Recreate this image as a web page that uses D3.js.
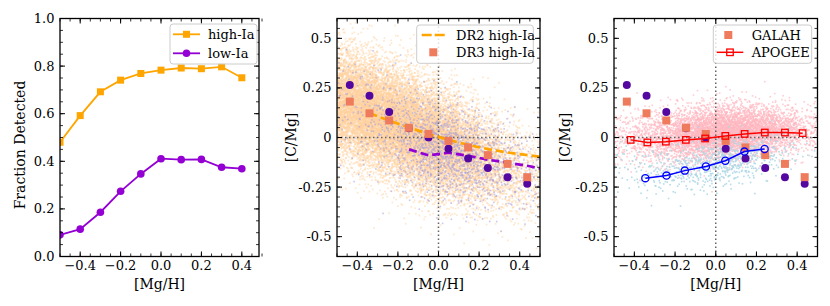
<!DOCTYPE html>
<html>
<head>
<meta charset="utf-8">
<script src="https://cdn.jsdelivr.net/npm/d3@7"></script>
<style>
  body { margin: 0; background: #fff; }
  svg { font-family: "DejaVu Serif", serif; }
</style>
</head>
<body>
<div id="chart"></div>
<script>

// 1. Data

// left panel: fraction detected per [Mg/H] bin
const fracX = [-0.5, -0.4, -0.3, -0.2, -0.1, 0.0, 0.1, 0.2, 0.3, 0.4];
const fracHighIa = [0.48, 0.592, 0.692, 0.741, 0.769, 0.783, 0.792, 0.789, 0.797, 0.751];
const fracLowIa = [0.091, 0.115, 0.186, 0.274, 0.347, 0.411, 0.407, 0.408, 0.375, 0.369];

// GALAH DR3 binned medians (middle + right panels)
const binX = [-0.437, -0.340, -0.243, -0.146, -0.049, 0.049, 0.146, 0.243, 0.340, 0.437];
const dr3LowIa = [0.265, 0.21, 0.129, 0.047, 0.0, -0.057, -0.106, -0.154, -0.2, -0.233];
const dr3HighIa = [0.181, 0.122, 0.086, 0.049, 0.018, -0.017, -0.05, -0.089, -0.133, -0.2];

// DR2 trends (dashed)
const dr2HighX = [-0.34, -0.25, -0.15, -0.05, 0.05, 0.15, 0.25, 0.35, 0.45, 0.5];
const dr2HighY = [0.122, 0.088, 0.052, 0.018, -0.012, -0.038, -0.06, -0.077, -0.09, -0.097];
const dr2LowX = [-0.145, -0.05, 0.05, 0.15, 0.25, 0.35, 0.45, 0.5];
const dr2LowY = [-0.06, -0.09, -0.077, -0.093, -0.113, -0.128, -0.145, -0.156];

// APOGEE trends (right panel)
const apogeeHighX = [-0.418, -0.336, -0.245, -0.147, -0.052, 0.047, 0.142, 0.241, 0.34, 0.427];
const apogeeHighY = [-0.012, -0.025, -0.021, -0.012, -0.005, 0.008, 0.018, 0.025, 0.025, 0.022];
const apogeeLowX = [-0.346, -0.242, -0.152, -0.048, 0.047, 0.141, 0.24];
const apogeeLowY = [-0.205, -0.192, -0.167, -0.146, -0.117, -0.071, -0.058];

// background star clouds, described per 0.1-wide column: centre, spread, star count
const cloudX = [-0.45, -0.35, -0.25, -0.15, -0.05, 0.05, 0.15, 0.25, 0.35, 0.45];
const galahHighMid = [0.17, 0.13, 0.09, 0.05, 0.0, -0.04, -0.08, -0.12, -0.16, -0.2];
const galahHighSpread = [0.14, 0.14, 0.14, 0.14, 0.14, 0.135, 0.13, 0.125, 0.125, 0.125];
const galahHighCount = [2000, 2300, 2300, 2300, 2100, 1700, 1200, 750, 450, 250];
const galahLowMid = [0.15, 0.1, 0.05, 0.0, -0.04, -0.07, -0.1, -0.13, -0.15, -0.18];
const galahLowSpread = [0.15, 0.15, 0.14, 0.13, 0.12, 0.12, 0.12, 0.12, 0.12, 0.12];
const galahLowCount = [40, 60, 110, 200, 300, 320, 260, 180, 100, 55];
const apogeeHighMid = [0.0, 0.0, 0.0, 0.01, 0.02, 0.03, 0.035, 0.04, 0.04, 0.035];
const apogeeHighSpread = [0.07, 0.07, 0.07, 0.07, 0.07, 0.068, 0.065, 0.06, 0.06, 0.06];
const apogeeHighCount = [120, 230, 380, 650, 900, 1000, 900, 650, 380, 150];
const apogeeLowMid = [-0.12, -0.17, -0.17, -0.16, -0.14, -0.12, -0.1, -0.08, -0.07, -0.06];
const apogeeLowSpread = [0.08, 0.07, 0.06, 0.06, 0.06, 0.06, 0.06, 0.06, 0.06, 0.06];
const apogeeLowCount = [25, 40, 60, 90, 130, 160, 130, 70, 25, 8];

const cTickVals = [-0.5, -0.25, 0, 0.25, 0.5];
const cTickLabels = ["-0.5", "-0.25", "0", "0.25", "0.5"];

// 2. Colours
const orange = "#ffa500";
const violet = "#9400d3";
const indigo = "#55089f";
const salmon = "#ef7b5d";

// 3. Canvas
const svg = d3.select("#chart").append("svg")
    .attr("width", 830)
    .attr("height", 306);

const plotTop = 18.5, plotBottom = 256.5;

function makePanel(id, x0, x1, xDomain, yDomain) {
    const x = d3.scaleLinear().domain(xDomain).range([x0, x1]);
    const y = d3.scaleLinear().domain(yDomain).range([plotBottom, plotTop]);
    svg.append("clipPath").attr("id", id)
        .append("rect")
            .attr("x", x0).attr("y", plotTop)
            .attr("width", x1 - x0).attr("height", plotBottom - plotTop);
    const plot = svg.append("g").attr("clip-path", `url(#${id})`);
    return {x, y, plot, x0, x1};
}

function drawFrame(p, xMajor, xMinor, yMinor, xFmt, yVals, yLabs, yLabel, yLabelX, yLabelY) {
    const g = svg.append("g");
    const tick = (x1, y1, x2, y2, w) => g.append("line")
        .attr("x1", x1).attr("y1", y1).attr("x2", x2).attr("y2", y2)
        .attr("stroke", "#000").attr("stroke-width", w);

    xMinor.forEach(v => {
        const px = p.x(v);
        tick(px, plotBottom, px, plotBottom - 3, 0.8);
        tick(px, plotTop, px, plotTop + 3, 0.8);
    });
    xMajor.forEach(v => {
        const px = p.x(v);
        tick(px, plotBottom, px, plotBottom - 5, 1);
        tick(px, plotTop, px, plotTop + 5, 1);
        g.append("text")
            .attr("x", px).attr("y", 269.5)
            .attr("text-anchor", "middle")
            .attr("font-size", 13)
            .text(xFmt(v));
    });
    yMinor.forEach(v => {
        const py = p.y(v);
        tick(p.x0, py, p.x0 + 3, py, 0.8);
        tick(p.x1, py, p.x1 - 3, py, 0.8);
    });
    yVals.forEach((v, i) => {
        const py = p.y(v);
        tick(p.x0, py, p.x0 + 5, py, 1);
        tick(p.x1, py, p.x1 - 5, py, 1);
        g.append("text")
            .attr("x", p.x0 - 5.5).attr("y", py)
            .attr("dy", "0.35em")
            .attr("text-anchor", "end")
            .attr("font-size", 13)
            .text(yLabs[i]);
    });

    g.append("rect")
        .attr("x", p.x0).attr("y", plotTop)
        .attr("width", p.x1 - p.x0).attr("height", plotBottom - plotTop)
        .attr("fill", "none")
        .attr("stroke", "#000")
        .attr("stroke-width", 1.3);

    g.append("text")
        .attr("x", (p.x0 + p.x1) / 2).attr("y", 289)
        .attr("text-anchor", "middle")
        .attr("font-size", 14)
        .text("[Mg/H]");

    g.append("text")
        .attr("transform", `translate(${yLabelX},${yLabelY}) rotate(-90)`)
        .attr("dy", "0.35em")
        .attr("text-anchor", "middle")
        .attr("font-size", 14)
        .text(yLabel);
}

// deterministic fill pattern for the star clouds (Halton sequence)
function halton(i, b) {
    let f = 1, r = 0;
    while (i > 0) { f /= b; r += f * (i % b); i = Math.floor(i / b); }
    return r;
}

function cloudPoints(mid, spread, count) {
    const pts = [];
    let k = 1;
    cloudX.forEach((cx, c) => {
        for (let j = 0; j < count[c]; j++, k++) {
            const u = halton(k, 2), v1 = halton(k, 3) || 0.5, v2 = halton(k, 5);
            const g = Math.sqrt(-2 * Math.log(v1)) * Math.cos(2 * Math.PI * v2);
            pts.push([cx + (u - 0.5) * 0.1, mid[c] + spread[c] * g]);
        }
    });
    return pts;
}

function drawCloud(p, pts, color, opacity, size) {
    p.plot.append("g")
        .selectAll("rect")
        .data(pts)
        .join("rect")
            .attr("x", d => p.x(d[0]) - size / 2)
            .attr("y", d => p.y(d[1]) - size / 2)
            .attr("width", size)
            .attr("height", size)
            .attr("fill", color)
            .attr("opacity", opacity);
}

function drawZeroLines(p) {
    p.plot.append("line")
        .attr("x1", p.x(0)).attr("x2", p.x(0))
        .attr("y1", plotTop).attr("y2", plotBottom)
        .attr("stroke", "#666").attr("stroke-width", 1.5)
        .attr("stroke-dasharray", "1.5,2.5");
    p.plot.append("line")
        .attr("x1", p.x0).attr("x2", p.x1)
        .attr("y1", p.y(0)).attr("y2", p.y(0))
        .attr("stroke", "#666").attr("stroke-width", 1.5)
        .attr("stroke-dasharray", "1.5,2.5");
}

function drawLine(p, xs, ys, color, width, dash) {
    const line = d3.line().x(d => p.x(d[0])).y(d => p.y(d[1]));
    p.plot.append("path")
        .attr("d", line(d3.zip(xs, ys)))
        .attr("fill", "none")
        .attr("stroke", color)
        .attr("stroke-width", width)
        .attr("stroke-dasharray", dash || null);
}

function drawSquares(p, xs, ys, size, fill, stroke, sw) {
    p.plot.append("g").selectAll("rect")
        .data(d3.zip(xs, ys))
        .join("rect")
            .attr("x", d => p.x(d[0]) - size / 2)
            .attr("y", d => p.y(d[1]) - size / 2)
            .attr("width", size).attr("height", size)
            .attr("fill", fill)
            .attr("stroke", stroke || "none")
            .attr("stroke-width", sw || 0);
}

function drawCircles(p, xs, ys, r, fill, stroke, sw) {
    p.plot.append("g").selectAll("circle")
        .data(d3.zip(xs, ys))
        .join("circle")
            .attr("cx", d => p.x(d[0]))
            .attr("cy", d => p.y(d[1]))
            .attr("r", r)
            .attr("fill", fill)
            .attr("stroke", stroke || "none")
            .attr("stroke-width", sw || 0);
}

function legendBox(x, y, w, h) {
    svg.append("rect")
        .attr("x", x).attr("y", y)
        .attr("width", w).attr("height", h)
        .attr("rx", 3)
        .attr("fill", "#fff").attr("fill-opacity", 0.8)
        .attr("stroke", "#ccc").attr("stroke-width", 1);
}

function legendText(x, y, txt) {
    svg.append("text")
        .attr("x", x).attr("y", y)
        .attr("dy", "0.35em")
        .attr("font-size", 13)
        .text(txt);
}

const minorX = d3.range(-0.5, 0.5001, 0.05);
const majorX = [-0.4, -0.2, 0, 0.2, 0.4];
const fmtX = v => Math.abs(v) < 1e-9 ? "0.0" : d3.format(".1f")(v);

// 4. Left panel
const left = makePanel("clipL", 60, 259, [-0.5, 0.485], [0, 1]);
drawLine(left, fracX, fracHighIa, orange, 1.8);
drawSquares(left, fracX, fracHighIa, 7, orange);
drawLine(left, fracX, fracLowIa, violet, 1.8);
drawCircles(left, fracX, fracLowIa, 3.8, violet);
const yMajL = [0, 0.2, 0.4, 0.6, 0.8, 1.0];
drawFrame(left, majorX, minorX, d3.range(0, 1.0001, 0.05),
    fmtX, yMajL, yMajL.map(d => d3.format(".1f")(d)), "Fraction Detected", 20, 145);

legendBox(170, 24, 87, 40);
svg.append("line").attr("x1", 173).attr("x2", 200).attr("y1", 34.3).attr("y2", 34.3)
    .attr("stroke", orange).attr("stroke-width", 1.8);
svg.append("rect").attr("x", 186.5 - 3.5).attr("y", 34.3 - 3.5)
    .attr("width", 7).attr("height", 7).attr("fill", orange);
legendText(208, 34.3, "high-Ia");
svg.append("line").attr("x1", 173).attr("x2", 200).attr("y1", 53.3).attr("y2", 53.3)
    .attr("stroke", violet).attr("stroke-width", 1.8);
svg.append("circle").attr("cx", 186.5).attr("cy", 53.3).attr("r", 3.8).attr("fill", violet);
legendText(208, 53.3, "low-Ia");

// 5. Middle panel
const mid = makePanel("clipM", 337, 540, [-0.5, 0.5], [-0.6, 0.6]);
drawCloud(mid, cloudPoints(galahHighMid, galahHighSpread, galahHighCount), "#ffd29e", 0.5, 1.7);
drawCloud(mid, cloudPoints(galahLowMid, galahLowSpread, galahLowCount), "#a8a2dc", 0.6, 1.6);
drawZeroLines(mid);
drawLine(mid, dr2HighX, dr2HighY, orange, 2.7, "8,4");
drawLine(mid, dr2LowX, dr2LowY, violet, 2.7, "8,4");
drawCircles(mid, binX, dr3LowIa, 4, indigo);
drawSquares(mid, binX, dr3HighIa, 8, salmon);
drawFrame(mid, majorX, minorX, d3.range(-0.6, 0.6001, 0.05),
    fmtX, cTickVals, cTickLabels, "[C/Mg]", 291, 137.5);

legendBox(416.7, 25, 116.6, 38.3);
svg.append("line").attr("x1", 421.7).attr("x2", 447).attr("y1", 35).attr("y2", 35)
    .attr("stroke", orange).attr("stroke-width", 2.7).attr("stroke-dasharray", "10,3");
svg.append("rect").attr("x", 433.3 - 4).attr("y", 52.3 - 4)
    .attr("width", 8).attr("height", 8).attr("fill", salmon);
legendText(456, 35, "DR2 high-Ia");
legendText(456, 52.3, "DR3 high-Ia");

// 6. Right panel
const right = makePanel("clipR", 614, 817.5, [-0.5, 0.5], [-0.6, 0.6]);
drawCloud(right, cloudPoints(apogeeHighMid, apogeeHighSpread, apogeeHighCount), "#ffb6c1", 0.7, 1.6);
drawCloud(right, cloudPoints(apogeeLowMid, apogeeLowSpread, apogeeLowCount), "#add8e6", 0.9, 1.6);
drawZeroLines(right);
drawCircles(right, binX, dr3LowIa, 4, indigo);
drawSquares(right, binX, dr3HighIa, 8, salmon);
drawLine(right, apogeeHighX, apogeeHighY, "#ff0000", 1.5);
drawSquares(right, apogeeHighX, apogeeHighY, 6.5, "none", "#ff0000", 1.3);
drawLine(right, apogeeLowX, apogeeLowY, "#0000ff", 1.5);
drawCircles(right, apogeeLowX, apogeeLowY, 3.6, "none", "#0000ff", 1.3);
drawFrame(right, majorX, minorX, d3.range(-0.6, 0.6001, 0.05),
    fmtX, cTickVals, cTickLabels, "[C/Mg]", 565, 137.5);

legendBox(713.3, 25, 98.4, 38.3);
svg.append("rect").attr("x", 728.3 - 4).attr("y", 35 - 4)
    .attr("width", 8).attr("height", 8).attr("fill", salmon);
legendText(751.7, 35, "GALAH");
svg.append("line").attr("x1", 716.7).attr("x2", 743.3).attr("y1", 52.3).attr("y2", 52.3)
    .attr("stroke", "#ff0000").attr("stroke-width", 1.5);
svg.append("rect").attr("x", 730 - 3.25).attr("y", 52.3 - 3.25)
    .attr("width", 6.5).attr("height", 6.5)
    .attr("fill", "none").attr("stroke", "#ff0000").attr("stroke-width", 1.3);
legendText(751.7, 52.3, "APOGEE");

</script>
</body>
</html>
